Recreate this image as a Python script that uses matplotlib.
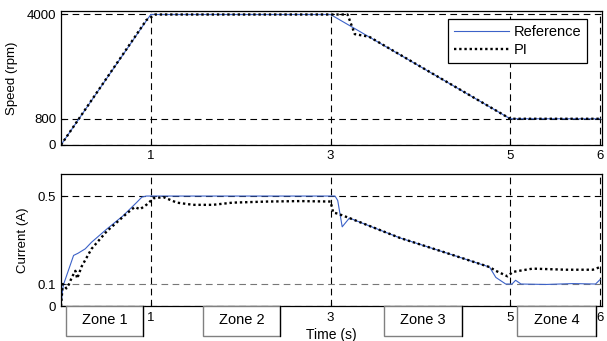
import matplotlib
matplotlib.use("Agg")
import matplotlib.pyplot as plt
from matplotlib.patches import Rectangle

plt.rcParams.update({
    "font.family": ["Liberation Sans", "DejaVu Sans"],
    "font.size": 9.5,
    "xtick.direction": "in",
    "ytick.direction": "in",
    "xtick.major.size": 3,
    "ytick.major.size": 3,
    "axes.linewidth": 0.9,
})

REF_COLOR = "#3c62c8"
PI_COLOR = "black"

# ---- speed data ----
t_speed_ref = [0, 0.95, 1.0, 3.0, 5.0, 6.0]
speed_ref = [0, 3800, 3990, 3990, 800, 800]

t_speed_pi = [0, 0.95, 1.05, 3.19, 3.27, 3.43, 5.0, 5.05, 6.0]
speed_pi = [0, 3820, 3990, 3990, 3390, 3310, 800, 800, 800]

# ---- current data ----
t_cur_ref = [0, 0.02, 0.03, 0.14, 0.19, 0.27, 0.34, 0.51, 0.69, 0.84, 0.90,
             0.95, 3.05, 3.08, 3.13, 3.21, 3.77, 4.30, 4.77, 4.84, 4.95, 5.02,
             5.06, 5.12, 5.4, 5.7, 5.95, 6.0]
cur_ref = [0, 0.08, 0.10, 0.23, 0.24, 0.26, 0.29, 0.35, 0.41, 0.47, 0.495,
           0.50, 0.50, 0.48, 0.36, 0.40, 0.31, 0.24, 0.177, 0.13, 0.10, 0.10,
           0.117, 0.10, 0.098, 0.102, 0.10, 0.12]

t_cur_pi = [0, 0.02, 0.06, 0.09, 0.12, 0.16, 0.18, 0.23, 0.34, 0.51, 0.73,
            0.82, 0.88, 0.95, 1.03, 1.14, 1.29, 1.47, 1.69, 1.91, 2.3, 2.66,
            3.0, 3.03, 3.08, 3.21, 3.77, 4.30, 4.77, 4.84, 4.97, 5.03, 5.1,
            5.25, 5.62, 5.92, 6.0]
cur_pi = [0, 0.10, 0.08, 0.10, 0.13, 0.16, 0.125, 0.18, 0.26, 0.34, 0.42,
          0.45, 0.44, 0.46, 0.49, 0.495, 0.47, 0.46, 0.46, 0.47, 0.475, 0.477,
          0.475, 0.425, 0.42, 0.40, 0.31, 0.24, 0.177, 0.16, 0.135, 0.155, 0.16,
          0.17, 0.165, 0.165, 0.177]

# ---- axes ticks / zones ----
x_ticks = [1, 3, 5, 6]
speed_ticks = [0, 800, 4000]
cur_ticks = [0, 0.1, 0.5]
zone_labels = ["Zone 1", "Zone 2", "Zone 3", "Zone 4"]
zone_start = [0.056, 1.58, 3.59, 5.08]
zone_end = [0.911, 2.44, 4.46, 5.96]

fig = plt.figure(figsize=(6.07, 3.41), dpi=100)
ax1 = fig.add_axes([0.1005, 0.575, 0.891, 0.393])
ax2 = fig.add_axes([0.1005, 0.1026, 0.891, 0.387])

grid_kw = dict(color="black", linestyle=(0, (6, 4)), linewidth=0.8)

# ---- speed ----
ax1.plot(t_speed_ref, speed_ref, color=REF_COLOR, lw=0.8, label="Reference")
ax1.plot(t_speed_pi, speed_pi, color=PI_COLOR, lw=1.7,
         linestyle=(0, (1, 1.2)), label="PI")
ax1.set_xlim(0, 6.02)
ax1.set_ylim(0, 4100)
ax1.set_xticks(x_ticks)
ax1.set_yticks(speed_ticks)
ax1.grid(True, **grid_kw)
ax1.set_ylabel("Speed (rpm)", labelpad=6)
ax1.legend(loc="upper right", bbox_to_anchor=(0.978, 0.96), fontsize=10.5,
           fancybox=False, edgecolor="black", framealpha=1, handlelength=3.8,
           borderpad=0.4, labelspacing=0.25, handletextpad=0.3,
           borderaxespad=0.2)
ax1.get_legend().get_frame().set_linewidth(0.9)

# ---- current ----
ax2.plot(t_cur_ref, cur_ref, color=REF_COLOR, lw=0.8)
ax2.plot(t_cur_pi, cur_pi, color=PI_COLOR, lw=1.7, linestyle=(0, (1, 1.2)))
ax2.set_xlim(0, 6.02)
ax2.set_ylim(0, 0.6)
ax2.set_xticks(x_ticks)
ax2.set_yticks(cur_ticks)
ax2.set_yticklabels(["0", "0.1", "0.5"])
ax2.grid(True, **grid_kw)
ax2.get_ygridlines()[1].set_color("#777777")
ax2.set_ylabel("Current (A)", labelpad=6)
ax2.set_xlabel("Time (s)", labelpad=3, fontsize=10)
ax2.tick_params(axis="x", pad=4)

for a in (ax1, ax2):
    a.tick_params(length=3, width=0.8)

# zone boxes under the current plot
trans = ax2.get_xaxis_transform()
for label, x0, x1 in zip(zone_labels, zone_start, zone_end):
    ax2.add_patch(Rectangle((x0, -0.227), x1 - x0, 0.227, transform=trans,
                            facecolor="white", edgecolor="#808080", lw=1.0,
                            clip_on=False, zorder=3))
    ax2.plot([x1, x1], [-0.227, 0], transform=trans, color="black", lw=0.9,
             clip_on=False, zorder=4)
    ax2.text((x0 + x1) / 2, -0.105, label, transform=trans, ha="center",
             va="center", fontsize=10.5, zorder=5)

fig.savefig("out.png", dpi=100)
